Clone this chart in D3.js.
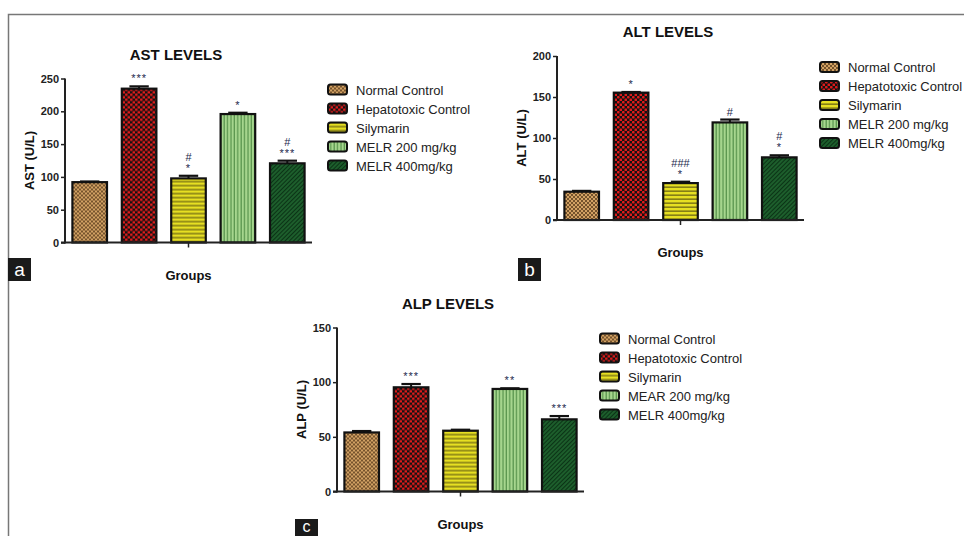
<!DOCTYPE html>
<html>
<head>
<meta charset="utf-8">
<script src="https://cdn.jsdelivr.net/npm/d3@7"></script>
<style>
  body { margin: 0; background: #fff; }
  text { font-family: "Liberation Sans", Arial, sans-serif; }
</style>
</head>
<body>
<script>
// groups (legend labels), the ALP chart says MEAR for the 200 dose
var groups = ["Normal Control", "Hepatotoxic Control", "Silymarin", "MELR 200 mg/kg", "MELR 400mg/kg"];
var groupsALP = ["Normal Control", "Hepatotoxic Control", "Silymarin", "MEAR 200 mg/kg", "MELR 400mg/kg"];

// means and SEM
var astValues = [92, 234.5, 97.7, 195.8, 120.7];
var astErrors = [1, 3.5, 4, 2, 4];
var astMarks = [[], ["***"], ["*", "#"], ["*"], ["***", "#"]];
var astTicks = [0, 50, 100, 150, 200, 250];

var altValues = [34.5, 155.3, 45, 119, 76.4];
var altErrors = [1, 0.8, 1.7, 3.5, 2.5];
var altMarks = [[], ["*"], ["*", "###"], ["#"], ["*", "#"]];
var altTicks = [0, 50, 100, 150, 200];

var alpValues = [54, 95.3, 55.6, 93.8, 66];
var alpErrors = [1.3, 3, 0.9, 0.6, 3];
var alpMarks = [[], ["***"], [], ["**"], ["***"]];
var alpTicks = [0, 50, 100, 150];

var width = 964;
var height = 536;

var svg = d3.select("body").append("svg")
  .attr("width", width)
  .attr("height", height);

//PATTERNS
//-------------------------------
var defs = svg.append("defs");

function pattern(id, w, h, bg) {
  var p = defs.append("pattern")
    .attr("id", id)
    .attr("patternUnits", "userSpaceOnUse")
    .attr("width", w)
    .attr("height", h);
  p.append("rect").attr("width", w).attr("height", h).attr("fill", bg);
  return p;
}

var p0 = pattern("pNormal", 4, 4, "#d2a264");
p0.append("rect").attr("x", 0).attr("y", 0).attr("width", 2).attr("height", 2).attr("fill", "#75532c");
p0.append("rect").attr("x", 2).attr("y", 2).attr("width", 2).attr("height", 2).attr("fill", "#75532c");

var p1 = pattern("pHepato", 5, 5, "#121212");
p1.append("rect").attr("x", 0).attr("y", 0).attr("width", 2.6).attr("height", 2.6).attr("rx", 0.8).attr("fill", "#e01b1b");
p1.append("rect").attr("x", 2.5).attr("y", 2.5).attr("width", 2.6).attr("height", 2.6).attr("rx", 0.8).attr("fill", "#e01b1b");

var p2 = pattern("pSily", 4, 4, "#e6df22");
p2.append("rect").attr("x", 0).attr("y", 2.5).attr("width", 4).attr("height", 1.3).attr("fill", "#6e6812");

var p3 = pattern("pM200", 3.4, 4, "#a6d68e");
p3.append("rect").attr("x", 2.2).attr("y", 0).attr("width", 1.1).attr("height", 4).attr("fill", "#4f8c45");

var p4 = pattern("pM400", 3, 3, "#1d5e2c")
  .attr("patternTransform", "rotate(45)");
p4.append("rect").attr("x", 0).attr("y", 0).attr("width", 1).attr("height", 3).attr("fill", "#0b3316");

var fills = ["url(#pNormal)", "url(#pHepato)", "url(#pSily)", "url(#pM200)", "url(#pM400)"];

//FRAME
//-------------------------------
svg.append("path")
  .attr("d", "M8.5," + height + "V14.5H" + width)
  .attr("fill", "none")
  .attr("stroke", "#777")
  .attr("stroke-width", 1.5);

//ONE BAR CHART
//-------------------------------
function drawChart(opt) {
  var plotW = 247;
  var plotH = 164;
  var g = svg.append("g").attr("transform", "translate(" + opt.x + "," + opt.y + ")");

  var x = d3.scaleBand()
    .domain(opt.labels)
    .range([0, plotW])
    .paddingInner(0.3)
    .paddingOuter(0.15);

  var y = d3.scaleLinear()
    .domain([0, opt.max])
    .range([plotH, 0]);

  g.append("text")
    .attr("x", 111)
    .attr("y", -19)
    .attr("text-anchor", "middle")
    .style("font-size", "15px")
    .style("font-weight", "bold")
    .attr("fill", "#111")
    .text(opt.title);

  // bars
  g.selectAll(".bar")
    .data(opt.values)
    .enter().append("rect")
    .attr("x", function(d, i) { return x(opt.labels[i]); })
    .attr("y", function(d) { return y(d); })
    .attr("width", x.bandwidth())
    .attr("height", function(d) { return plotH - y(d); })
    .attr("fill", function(d, i) { return fills[i]; })
    .attr("stroke", "#111")
    .attr("stroke-width", 2.2);

  // error bars
  var err = g.selectAll(".err")
    .data(opt.values)
    .enter().append("g");
  err.append("line")
    .attr("x1", function(d, i) { return x(opt.labels[i]) + x.bandwidth() / 2; })
    .attr("x2", function(d, i) { return x(opt.labels[i]) + x.bandwidth() / 2; })
    .attr("y1", function(d) { return y(d); })
    .attr("y2", function(d, i) { return y(d + opt.errors[i]); })
    .attr("stroke", "#111")
    .attr("stroke-width", 2);
  err.append("line")
    .attr("x1", function(d, i) { return x(opt.labels[i]) + x.bandwidth() * 0.22; })
    .attr("x2", function(d, i) { return x(opt.labels[i]) + x.bandwidth() * 0.78; })
    .attr("y1", function(d, i) { return y(d + opt.errors[i]); })
    .attr("y2", function(d, i) { return y(d + opt.errors[i]); })
    .attr("stroke", "#111")
    .attr("stroke-width", 2.2);

  // significance marks
  opt.marks.forEach(function(m, i) {
    m.forEach(function(s, k) {
      g.append("text")
        .attr("x", x(opt.labels[i]) + x.bandwidth() / 2)
        .attr("y", y(opt.values[i] + opt.errors[i]) - 4 - k * 11)
        .attr("text-anchor", "middle")
        .style("font-size", "11px")
        .style("letter-spacing", s.charAt(0) == "*" ? "1px" : "0px")
        .attr("fill", "#23284d")
        .text(s);
    });
  });

  // axes
  var yAxis = g.append("g")
    .call(d3.axisLeft(y).tickValues(opt.ticks).tickSize(4).tickPadding(2));
  yAxis.select(".domain").attr("stroke", "#222").attr("stroke-width", 2)
    .attr("d", "M0," + (plotH + 1) + "V0");
  yAxis.selectAll(".tick line").attr("stroke", "#222").attr("stroke-width", 1.5);
  yAxis.selectAll(".tick text")
    .style("font-size", "11px")
    .style("font-weight", "bold")
    .attr("fill", "#222");

  g.append("line")
    .attr("x1", -4).attr("x2", plotW)
    .attr("y1", plotH).attr("y2", plotH)
    .attr("stroke", "#222")
    .attr("stroke-width", 2);
  g.append("line")
    .attr("x1", plotW / 2).attr("x2", plotW / 2)
    .attr("y1", plotH).attr("y2", plotH + 5)
    .attr("stroke", "#222")
    .attr("stroke-width", 1.5);

  g.append("text")
    .attr("transform", "translate(-31," + (plotH / 2) + ") rotate(-90)")
    .attr("text-anchor", "middle")
    .style("font-size", "13px")
    .style("font-weight", "bold")
    .attr("fill", "#111")
    .text(opt.yLabel);

  g.append("text")
    .attr("x", plotW / 2)
    .attr("y", plotH + 37)
    .attr("text-anchor", "middle")
    .style("font-size", "13px")
    .style("font-weight", "bold")
    .attr("fill", "#111")
    .text("Groups");

  // legend
  var leg = g.selectAll(".leg")
    .data(opt.labels)
    .enter().append("g")
    .attr("transform", function(d, i) { return "translate(263," + (11 + i * 19) + ")"; });
  leg.append("rect")
    .attr("x", 0).attr("y", -5)
    .attr("width", 19).attr("height", 10)
    .attr("rx", 2.5)
    .attr("fill", function(d, i) { return fills[i]; })
    .attr("stroke", "#111")
    .attr("stroke-width", 2);
  leg.append("text")
    .attr("x", 28)
    .attr("y", 5)
    .style("font-size", "13px")
    .attr("fill", "#222")
    .text(function(d) { return d; });

  // panel letter
  var lb = svg.append("g").attr("transform", "translate(" + opt.letterX + "," + opt.letterY + ")");
  lb.append("rect").attr("width", 23).attr("height", opt.letterH).attr("fill", "#1a1a1a");
  lb.append("text")
    .attr("x", 11.5).attr("y", opt.letterBase)
    .attr("text-anchor", "middle")
    .style("font-size", opt.letterSize)
    .attr("fill", "#fff")
    .text(opt.letter);
}

drawChart({ x: 65, y: 78.5, max: 250, title: "AST LEVELS", yLabel: "AST (U/L)",
  labels: groups, values: astValues, errors: astErrors, marks: astMarks, ticks: astTicks,
  letter: "a", letterX: 8, letterY: 258, letterH: 23, letterBase: 18, letterSize: "19px" });

drawChart({ x: 557, y: 56, max: 200, title: "ALT LEVELS", yLabel: "ALT (U/L)",
  labels: groups, values: altValues, errors: altErrors, marks: altMarks, ticks: altTicks,
  letter: "b", letterX: 518, letterY: 258, letterH: 23, letterBase: 18, letterSize: "19px" });

drawChart({ x: 337, y: 327.5, max: 150, title: "ALP LEVELS", yLabel: "ALP (U/L)",
  labels: groupsALP, values: alpValues, errors: alpErrors, marks: alpMarks, ticks: alpTicks,
  letter: "c", letterX: 295, letterY: 519, letterH: 17, letterBase: 13, letterSize: "16px" });
</script>
</body>
</html>
